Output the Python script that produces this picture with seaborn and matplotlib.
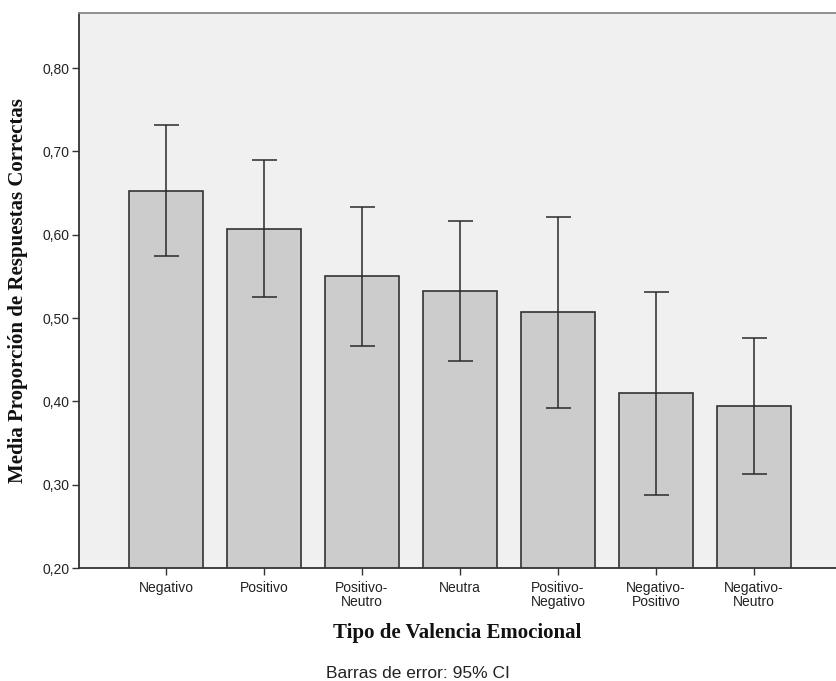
import matplotlib
matplotlib.use("Agg")
import matplotlib.pyplot as plt
import seaborn as sns
import pandas as pd
import numpy as np
from matplotlib.ticker import FuncFormatter

# Mean proportion of correct responses by emotional valence, with 95% CI
categories = ["Negativo", "Positivo", "Positivo-\nNeutro", "Neutra",
              "Positivo-\nNegativo", "Negativo-\nPositivo", "Negativo-\nNeutro"]
means = [0.653, 0.607, 0.550, 0.532, 0.507, 0.410, 0.394]
ci_low = [0.574, 0.525, 0.467, 0.449, 0.392, 0.288, 0.313]
ci_high = [0.732, 0.690, 0.633, 0.616, 0.621, 0.531, 0.476]
y_ticks = [0.20, 0.30, 0.40, 0.50, 0.60, 0.70, 0.80]

df = pd.DataFrame({"valencia": categories, "media": means})

sns.set_theme(style="white")
plt.rcParams["font.family"] = ["Liberation Sans", "DejaVu Sans"]

fig = plt.figure(figsize=(8.36, 6.81), dpi=100)
ax = fig.add_axes([79 / 836, 113 / 681, 757 / 836, 555 / 681])
ax.set_facecolor("#f0f0f0")

sns.barplot(data=df, x="valencia", y="media", order=categories,
            color="#cccccc", saturation=1, width=0.755, errorbar=None,
            edgecolor="#333333", linewidth=1.2, ax=ax)

x = np.arange(len(categories))
m = np.array(means)
yerr = np.vstack([m - np.array(ci_low), np.array(ci_high) - m])
ax.errorbar(x, m, yerr=yerr, fmt="none", ecolor="#2a2a2a",
            elinewidth=1.1, capsize=9, capthick=1.1, zorder=5)

ax.set_xlim(-0.89, 6.84)
ax.set_ylim(0.20, 0.866)
ax.set_yticks(y_ticks)
ax.yaxis.set_major_formatter(FuncFormatter(lambda v, p: f"{v:.2f}".replace(".", ",")))

ax.tick_params(axis="both", which="major", direction="out", length=5,
               width=1, color="#333333", labelsize=10, labelcolor="#222222",
               left=True, bottom=True, pad=2)
ax.tick_params(axis="x", pad=4.5)
for lab in ax.get_xticklabels():
    lab.set_linespacing(1.0)

for side in ["left", "bottom"]:
    ax.spines[side].set_color("#333333")
    ax.spines[side].set_linewidth(1.3)
ax.spines["top"].set_color("#888888")
ax.spines["top"].set_linewidth(1.3)
ax.spines["right"].set_visible(False)

serif = ["Liberation Serif", "DejaVu Serif"]
ax.set_xlabel("Tipo de Valencia Emocional", fontsize=15, fontweight="bold",
              family=serif, color="#111111", labelpad=10)
ax.set_ylabel("Media Proporción de Respuestas Correctas", fontsize=15,
              fontweight="bold", family=serif, color="#111111", labelpad=10)

fig.text(0.5, 1 - 673 / 681, "Barras de error: 95% CI", ha="center",
         va="center", fontsize=12.5, color="#222222")

fig.savefig("out.png", dpi=100)
